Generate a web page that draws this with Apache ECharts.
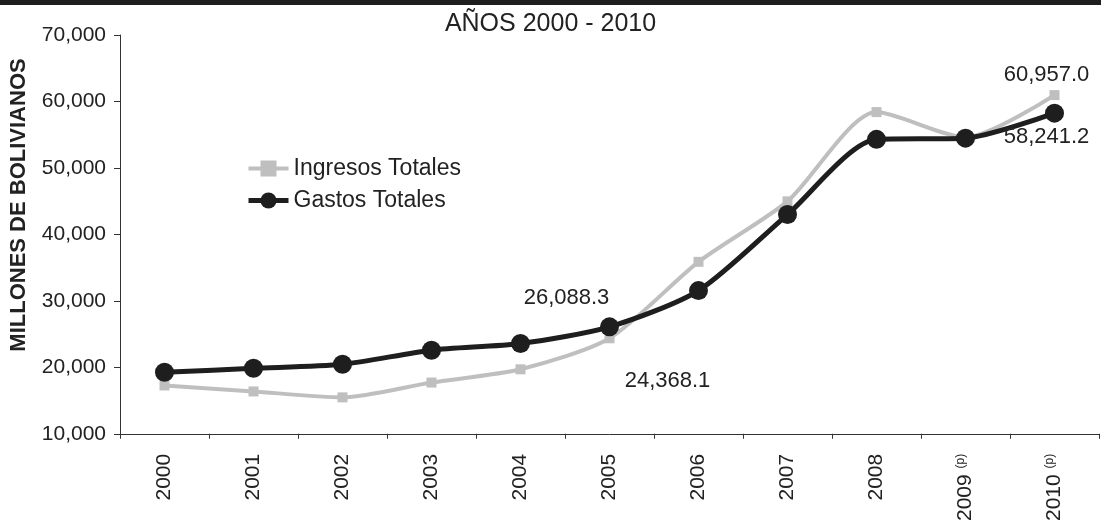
<!DOCTYPE html>
<html>
<head>
<meta charset="utf-8">
<script src="https://cdn.jsdelivr.net/npm/echarts@6/dist/echarts.min.js"></script>
<style>
  html, body { margin: 0; padding: 0; background: #fff; }
  #chart { width: 1101px; height: 524px; }
</style>
</head>
<body>
<div id="chart"></div>
<script>
// años, (p) = preliminar
var years = ['2000', '2001', '2002', '2003', '2004', '2005', '2006', '2007', '2008', '2009', '2010'];
var preliminar = ['2009', '2010'];

// millones de bolivianos
var ingresos = [17270, 16370, 15480, 17710, 19700, 24368.1, 35870, 44970, 58400, 54600, 60957.0];
var gastos = [19250, 19850, 20450, 22580, 23580, 26088.3, 31540, 42985, 54300, 54480, 58241.2];

var yTicks = { min: 10000, max: 70000, interval: 10000 };

var chart = echarts.init(document.getElementById('chart'));

var font = 'Liberation Sans, Arial, sans-serif';
var txtColor = '#222';
var grisIng = '#bfbfbf';
var negroGas = '#1e1e1e';

var fmt = function (v) {
    return v.toLocaleString('en-US', { minimumFractionDigits: 1, maximumFractionDigits: 1 });
};

// etiquetas solo en algunos puntos
var withLabels = function (vals, labels) {
    return vals.map(function (v, i) {
        var lb = labels[i];
        if (!lb) return v;
        return {
            value: v,
            label: {
                show: true,
                position: 'inside',
                offset: lb,
                formatter: function (p) { return fmt(p.value); },
                color: txtColor,
                fontSize: 22,
                fontFamily: font
            }
        };
    });
};

var option = {
    animation: false,
    backgroundColor: '#fff',
    title: {
        text: 'AÑOS 2000 - 2010',
        left: 'center',
        top: 7,
        textStyle: { fontSize: 25, fontWeight: 'normal', color: txtColor, fontFamily: font }
    },
    legend: {
        orient: 'vertical',
        left: 241,
        top: 152,
        itemGap: 9,
        itemWidth: 40,
        itemHeight: 20,
        textStyle: { fontSize: 23, color: txtColor, fontFamily: font },
        data: [
            { name: 'Ingresos Totales', lineStyle: { width: 4, color: grisIng }, itemStyle: { color: grisIng } },
            { name: 'Gastos Totales', lineStyle: { width: 5, color: negroGas }, itemStyle: { color: negroGas } }
        ]
    },
    graphic: [
        { type: 'rect', left: 0, top: 0, shape: { width: 1101, height: 5 }, style: { fill: '#1e1e1e' } },
        {
            type: 'text',
            x: 19, y: 205,
            rotation: Math.PI / 2,
            style: {
                text: 'MILLONES DE BOLIVIANOS',
                fill: txtColor,
                font: 'bold 22px ' + font,
                textAlign: 'center',
                textVerticalAlign: 'middle'
            }
        }
    ],
    grid: { left: 120, right: 2, top: 35, bottom: 88 },
    xAxis: {
        type: 'category',
        data: years,
        boundaryGap: true,
        axisLine: { lineStyle: { color: '#333', width: 1 } },
        axisTick: { show: true, length: 5, lineStyle: { color: '#333' } },
        axisLabel: {
            rotate: 90,
            margin: 20,
            fontSize: 21,
            color: txtColor,
            fontFamily: font,
            formatter: function (v) {
                return preliminar.indexOf(v) >= 0 ? v + ' {p|(p)}' : v;
            },
            rich: {
                p: { fontSize: 12, color: txtColor, fontFamily: font, verticalAlign: 'top', padding: [0, 0, 8, 0] }
            }
        }
    },
    yAxis: {
        type: 'value',
        min: yTicks.min,
        max: yTicks.max,
        interval: yTicks.interval,
        axisLine: { show: true, lineStyle: { color: '#333', width: 1 } },
        axisTick: { show: true, length: 6, lineStyle: { color: '#333' } },
        splitLine: { show: false },
        axisLabel: {
            margin: 14,
            fontSize: 21,
            color: txtColor,
            fontFamily: font,
            formatter: function (v) { return v.toLocaleString('en-US'); }
        }
    },
    series: [
        {
            name: 'Ingresos Totales',
            type: 'line',
            smooth: 0.25,
            symbol: 'rect',
            symbolSize: 10,
            lineStyle: { color: grisIng, width: 4 },
            itemStyle: { color: grisIng },
            data: withLabels(ingresos, { 5: [58, 43], 10: [-8, -20] })
        },
        {
            name: 'Gastos Totales',
            type: 'line',
            smooth: 0.25,
            symbol: 'circle',
            symbolSize: 19,
            lineStyle: { color: negroGas, width: 5 },
            itemStyle: { color: negroGas },
            data: withLabels(gastos, { 5: [-43, -29], 10: [-8, 24] })
        }
    ]
};

chart.setOption(option);
</script>
</body>
</html>
